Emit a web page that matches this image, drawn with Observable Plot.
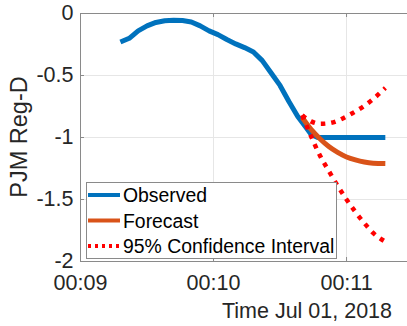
<!DOCTYPE html>
<html>
<head>
<meta charset="utf-8">
<script src="https://cdn.jsdelivr.net/npm/d3@7"></script>
<script src="https://cdn.jsdelivr.net/npm/@observablehq/plot@0.6"></script>
<style>
  html, body { margin: 0; padding: 0; background: #fff; }
  #chart { width: 407px; height: 326px; overflow: hidden; }
</style>
</head>
<body>
<div id="chart"></div>
<script>
// ---- data (seconds after 00:09:00 on Jul 01, 2018) ----
const obsSec = [18, 22, 26, 30, 34, 38, 42, 46, 50, 54, 58, 62, 66, 70, 74, 78, 82, 86, 90, 94, 98, 102, 104, 107, 137.5];
const obsVal = [-0.23, -0.20, -0.14, -0.10, -0.072, -0.058, -0.055, -0.057, -0.068, -0.10, -0.14, -0.17, -0.21, -0.245, -0.275, -0.31, -0.38, -0.48, -0.58, -0.71, -0.83, -0.925, -0.975, -1.0, -1.0];

const fcSec = [100, 104, 108, 112, 116, 120, 124, 128, 132, 137.5];
const fcVal = [-0.839, -0.935, -1.01, -1.073, -1.12, -1.157, -1.181, -1.198, -1.207, -1.21];
const ciUpper = [-0.82, -0.87, -0.89, -0.885, -0.865, -0.83, -0.79, -0.745, -0.69, -0.60];
const ciLower = [-0.82, -0.99, -1.145, -1.27, -1.39, -1.50, -1.60, -1.69, -1.77, -1.84];

const xTickLabels = ["00:09", "00:10", "00:11"];
const xTickSec = [0, 60, 120];
const yTicks = [0, -0.5, -1, -1.5, -2];
const yTickLabels = ["0", "-0.5", "-1", "-1.5", "-2"];
const seriesNames = ["Observed", "Forecast", "95% Confidence Interval"];
const yLabel = "PJM Reg-D";
const xLabel = "Time Jul 01, 2018";

// ---- build tables ----
const base = new Date(2018, 6, 1, 0, 9, 0).getTime();
const toDate = s => new Date(base + s * 1000);
const observed = obsSec.map((s, i) => ({t: toDate(s), v: obsVal[i]}));
const forecast = fcSec.map((s, i) => ({t: toDate(s), v: fcVal[i]}));
const upper = fcSec.map((s, i) => ({t: toDate(s), v: ciUpper[i]}));
const lower = fcSec.map((s, i) => ({t: toDate(s), v: ciLower[i]}));
const xTicks = xTickSec.map(toDate);
const xLabelMap = new Map(xTicks.map((d, i) => [+d, xTickLabels[i]]));
const yLabelMap = new Map(yTicks.map((d, i) => [d, yTickLabels[i]]));

const BLUE = "#0072BD", ORANGE = "#D95319", RED = "#FF0000";
const W = 407, H = 326, ML = 80, MT = 13, MB = 65, MR = 0;
const FONT = "Liberation Sans, Arial, Helvetica, sans-serif";

const chart = Plot.plot({
  width: W,
  height: H,
  marginLeft: ML,
  marginRight: MR,
  marginTop: MT,
  marginBottom: MB,
  style: {fontFamily: FONT, fontSize: "21.5px", color: "#262626", background: "#fff", overflow: "visible"},
  x: {type: "time", domain: [toDate(0), toDate(147.5)]},
  y: {domain: [-2, 0]},
  marks: [
    Plot.gridX(xTicks, {stroke: "#e6e6e6", strokeOpacity: 1}),
    Plot.gridY(yTicks, {stroke: "#e6e6e6", strokeOpacity: 1}),
    // inward ticks
    Plot.ruleX(xTicks, {stroke: "#8a8a8a", insetTop: H - MT - MB - 4}),
    Plot.ruleX(xTicks, {stroke: "#8a8a8a", insetBottom: H - MT - MB - 4}),
    Plot.ruleY(yTicks, {stroke: "#8a8a8a", insetRight: W - ML - MR - 4}),
    // axes box (left, top, bottom)
    Plot.ruleY([0, -2], {stroke: "#8a8a8a"}),
    Plot.ruleX([toDate(0)], {stroke: "#8a8a8a"}),
    Plot.axisX(xTicks, {tickSize: 0, tickPadding: 13, tickFormat: d => xLabelMap.get(+d), label: null, fill: "#262626"}),
    Plot.axisY(yTicks, {tickSize: 0, tickPadding: 7, tickFormat: d => yLabelMap.get(d), label: null, fill: "#262626"}),
    Plot.line(observed, {x: "t", y: "v", stroke: BLUE, strokeWidth: 5, strokeLinejoin: "round", strokeLinecap: "butt"}),
    Plot.line(forecast, {x: "t", y: "v", stroke: ORANGE, strokeWidth: 5, strokeLinejoin: "round", strokeLinecap: "butt", curve: "monotone-x"}),
    Plot.line(upper, {x: "t", y: "v", stroke: RED, strokeWidth: 4.5, strokeDasharray: "4.5 6", strokeLinecap: "butt", curve: "monotone-x"}),
    Plot.line(lower, {x: "t", y: "v", stroke: RED, strokeWidth: 4.5, strokeDasharray: "4.5 6", strokeLinecap: "butt", curve: "monotone-x"})
  ]
});

document.getElementById("chart").appendChild(chart);

// ---- labels and legend ----
const svg = d3.select(chart);
svg.append("text")
  .attr("transform", `translate(27,${(MT + (H - MB)) / 2}) rotate(-90)`)
  .attr("text-anchor", "middle")
  .attr("font-family", FONT)
  .attr("font-size", "23.5px")
  .attr("fill", "#262626")
  .text(yLabel);
svg.append("text")
  .attr("x", 307).attr("y", 318)
  .attr("text-anchor", "middle")
  .attr("font-family", FONT)
  .attr("font-size", "21.5px")
  .attr("fill", "#262626")
  .text(xLabel);

const lg = svg.append("g");
lg.append("rect").attr("x", 86.5).attr("y", 182.5).attr("width", 250).attr("height", 76)
  .attr("fill", "#fff").attr("stroke", "#8a8a8a").attr("stroke-width", 1);
const legendRows = [
  {name: seriesNames[0], color: BLUE, dash: null, w: 4},
  {name: seriesNames[1], color: ORANGE, dash: null, w: 4},
  {name: seriesNames[2], color: RED, dash: "3 4", w: 4}
];
legendRows.forEach((r, i) => {
  const y = 195 + i * 25.5;
  const ln = lg.append("line").attr("x1", 88).attr("x2", 120).attr("y1", y).attr("y2", y)
    .attr("stroke", r.color).attr("stroke-width", r.w);
  if (r.dash) ln.attr("stroke-dasharray", r.dash);
  lg.append("text").attr("x", 123).attr("y", y + 7)
    .attr("text-anchor", "start")
    .attr("font-family", FONT).attr("font-size", "19.4px").attr("fill", "#000")
    .text(r.name);
});
</script>
</body>
</html>
